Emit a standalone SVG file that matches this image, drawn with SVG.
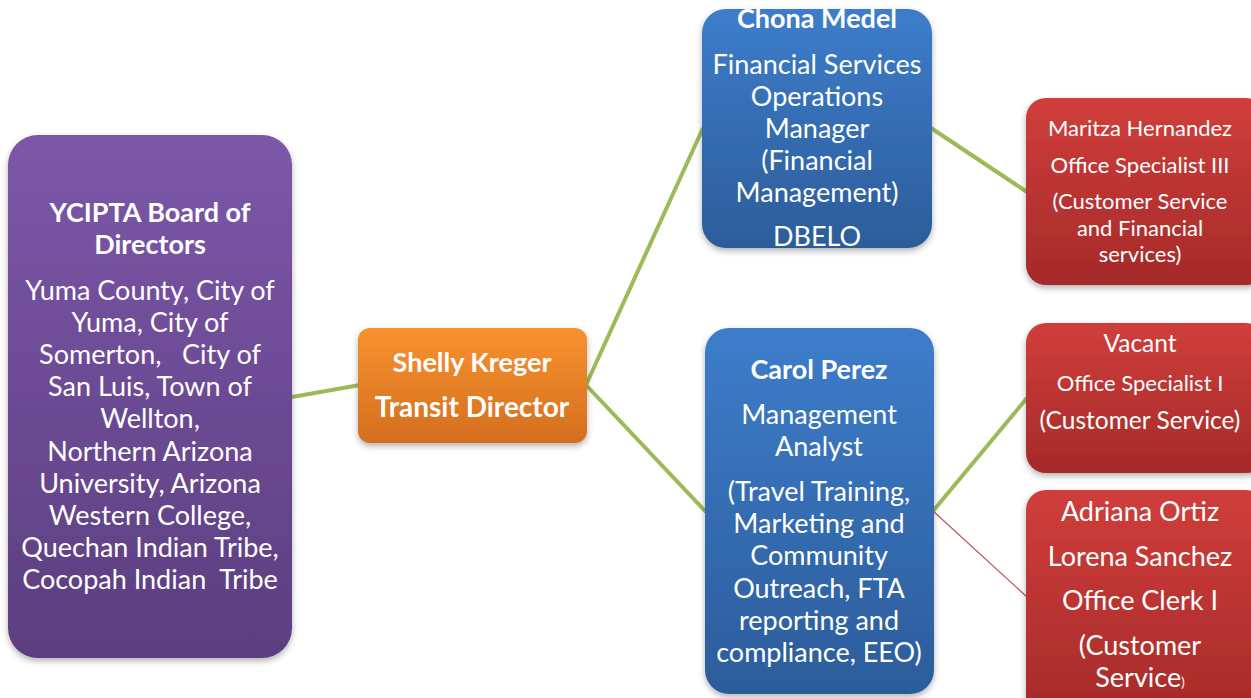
<svg xmlns="http://www.w3.org/2000/svg" width="1251" height="698" viewBox="0 0 1251 698">
<defs>
<linearGradient id="gP" x1="0" y1="0" x2="0" y2="1"><stop offset="0" stop-color="#7c57a9"/><stop offset="1" stop-color="#5c3e7f"/></linearGradient>
<linearGradient id="gO" x1="0" y1="0" x2="0" y2="1"><stop offset="0" stop-color="#f8922f"/><stop offset="1" stop-color="#d46e1f"/></linearGradient>
<linearGradient id="gB" x1="0" y1="0" x2="0" y2="1"><stop offset="0" stop-color="#3d7dcb"/><stop offset="1" stop-color="#2c5c9a"/></linearGradient>
<linearGradient id="gR" x1="0" y1="0" x2="0" y2="1"><stop offset="0" stop-color="#d03e3b"/><stop offset="1" stop-color="#a52a29"/></linearGradient>
<filter id="sh" x="-10%" y="-10%" width="120%" height="120%"><feDropShadow dx="0" dy="3" stdDeviation="3" flood-color="#000" flood-opacity="0.3"/></filter>
</defs>
<style>
text{font-family:Lato,"Open Sans","Liberation Sans",sans-serif;fill:#fff;text-anchor:middle}
.b{font-weight:bold}
.ln{stroke:#9bbb59;stroke-width:4;fill:none}
.lr{stroke:#c0504d;stroke-width:1.2;fill:none}
</style>
<rect width="1251" height="698" fill="#fff"/>
<g id="connectors">
<line class="ln" x1="292" y1="397" x2="360" y2="385"/>
<line class="ln" x1="586" y1="385" x2="703" y2="128"/>
<line class="ln" x1="586" y1="385" x2="706" y2="512"/>
<line class="ln" x1="931" y1="128" x2="1027" y2="192"/>
<line class="ln" x1="933" y1="511" x2="1027" y2="398"/>
<line class="lr" x1="933" y1="511" x2="1027" y2="597"/>
</g>
<g id="board">
<rect x="8" y="135" width="284" height="523" rx="30" fill="url(#gP)" filter="url(#sh)"/>
<text class="b" font-size="27" x="150" y="222">YCIPTA Board of</text>
<text class="b" font-size="27" x="150" y="254">Directors</text>
<g font-size="27">
<text x="150" y="300">Yuma County, City of</text>
<text x="150" y="332">Yuma, City of</text>
<text x="150" y="364" xml:space="preserve">Somerton,   City of</text>
<text x="150" y="396">San Luis, Town of</text>
<text x="150" y="428">Wellton,</text>
<text x="150" y="461">Northern Arizona</text>
<text x="150" y="493">University, Arizona</text>
<text x="150" y="525">Western College,</text>
<text x="150" y="557">Quechan Indian Tribe,</text>
<text x="150" y="589" xml:space="preserve">Cocopah Indian  Tribe</text>
</g>
</g>
<g id="director">
<rect x="358" y="328" width="229" height="115" rx="12" fill="url(#gO)" filter="url(#sh)"/>
<text class="b" font-size="27" x="472" y="372">Shelly Kreger</text>
<text class="b" font-size="28" x="472" y="417">Transit Director</text>
</g>
<g id="chona">
<rect x="702" y="9" width="230" height="239" rx="24" fill="url(#gB)" filter="url(#sh)"/>
<text class="b" font-size="27" x="817" y="28">Chona Medel</text>
<g font-size="27">
<text x="817" y="74">Financial Services</text>
<text x="817" y="106">Operations</text>
<text x="817" y="138">Manager</text>
<text x="817" y="170">(Financial</text>
<text x="817" y="202">Management)</text>
<text x="817" y="246">DBELO</text>
</g>
</g>
<g id="carol">
<rect x="705" y="328" width="229" height="366" rx="24" fill="url(#gB)" filter="url(#sh)"/>
<text class="b" font-size="27" x="819" y="379">Carol Perez</text>
<g font-size="27">
<text x="819" y="424">Management</text>
<text x="819" y="456">Analyst</text>
<text x="819" y="501">(Travel Training,</text>
<text x="819" y="533">Marketing and</text>
<text x="819" y="565">Community</text>
<text x="819" y="598">Outreach, FTA</text>
<text x="819" y="630">reporting and</text>
<text x="819" y="662">compliance, EEO)</text>
</g>
</g>
<g id="maritza">
<rect x="1026" y="98" width="240" height="187" rx="20" fill="url(#gR)" filter="url(#sh)"/>
<g font-size="22">
<text x="1140" y="136">Maritza Hernandez</text>
<text x="1140" y="173">Office Specialist III</text>
<text x="1140" y="209">(Customer Service</text>
<text x="1140" y="236">and Financial</text>
<text x="1140" y="262">services)</text>
</g>
</g>
<g id="vacant">
<rect x="1026" y="323" width="240" height="150" rx="20" fill="url(#gR)" filter="url(#sh)"/>
<text font-size="24.5" x="1140" y="352">Vacant</text>
<text font-size="22" x="1140" y="391">Office Specialist I</text>
<text font-size="24.5" x="1140" y="429">(Customer Service)</text>
</g>
<g id="clerks">
<rect x="1026" y="490" width="240" height="230" rx="20" fill="url(#gR)" filter="url(#sh)"/>
<g font-size="27">
<text x="1140" y="521">Adriana Ortiz</text>
<text x="1140" y="566">Lorena Sanchez</text>
<text x="1140" y="610">Office Clerk I</text>
<text x="1140" y="655">(Customer</text>
<text x="1140" y="687">Service<tspan font-size="13">)</tspan></text>
</g>
</g>
</svg>
